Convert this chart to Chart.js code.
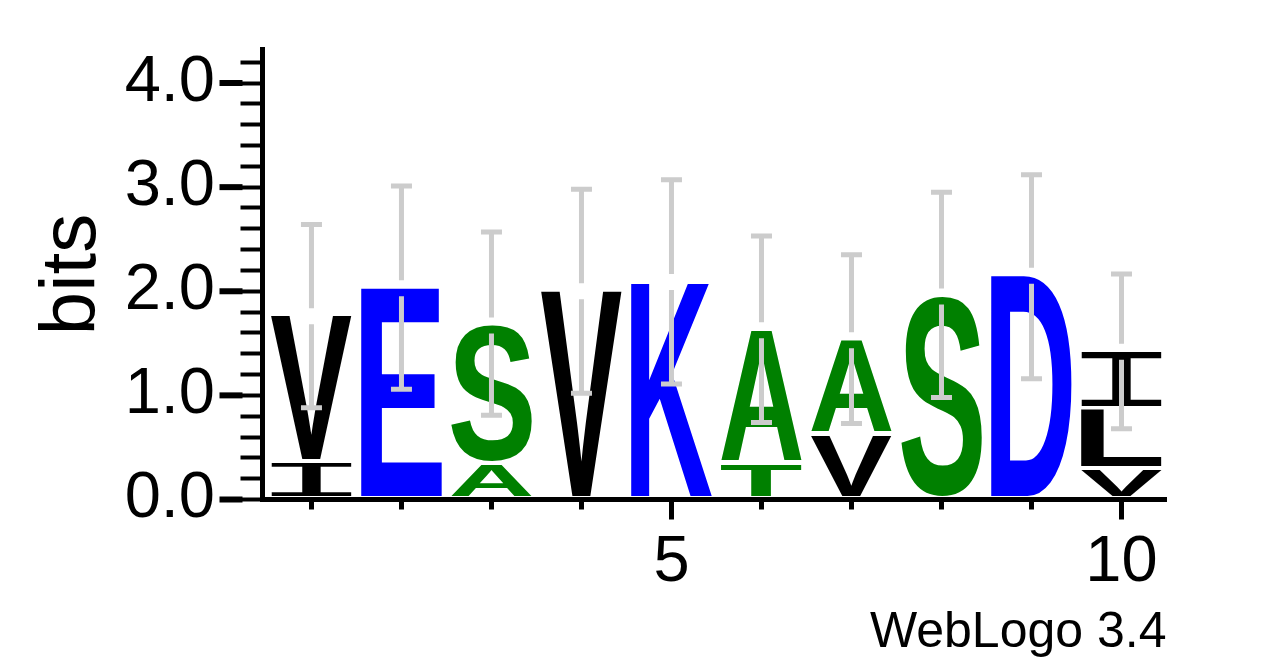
<!DOCTYPE html>
<html><head><meta charset="utf-8">
<script src="https://cdn.jsdelivr.net/npm/chart.js@4.4.1/dist/chart.umd.min.js"></script>
<style>html,body{margin:0;padding:0;background:#fff;}#wrap{width:1267px;height:667px;}</style>
</head><body><div id="wrap"><canvas id="c" width="1267" height="667"></canvas></div>
<script>
// ---- data ----
const positions = [1, 2, 3, 4, 5, 6, 7, 8, 9, 10];
const level0Letters = ['I', 'E', 'A', 'V', 'K', 'T', 'V', 'S', 'D', 'V'];
const level0Bits    = [0.35, 2.03, 0.33, 2.00, 2.09, 0.33, 0.61, 1.95, 2.15, 0.28];
const level1Letters = ['V', '', 'S', '', '', 'A', 'A', '', '', 'L'];
const level1Bits    = [1.41, 0, 1.34, 0, 0, 1.295, 0.92, 0, 0, 0.58];
const level2Letters = ['', '', '', '', '', '', '', '', '', 'I'];
const level2Bits    = [0, 0, 0, 0, 0, 0, 0, 0, 0, 0.56];
const errLow  = [0.88, 1.06, 0.81, 1.02, 1.11, 0.74, 0.73, 0.98, 1.16, 0.68];
const errHigh = [2.64, 3.01, 2.57, 2.98, 3.07, 2.53, 2.35, 2.95, 3.12, 2.165];
const xLabeledTicks = [5, 10];
const yMajorTicks = [0, 1, 2, 3, 4];
const yAxisTitle = 'bits';
const footerText = 'WebLogo 3.4';
const letterColors = {V:'#000000', I:'#000000', L:'#000000', E:'#0000ff', K:'#0000ff', D:'#0000ff', S:'#008000', A:'#008000', T:'#008000'};

const FONT = '"Liberation Sans", Arial, Helvetica, sans-serif';
Chart.defaults.font.family = FONT;
Chart.defaults.color = '#000';

const levels = [
  {letters: level0Letters, bits: level0Bits},
  {letters: level1Letters, bits: level1Bits},
  {letters: level2Letters, bits: level2Bits}
];

const datasets = levels.map((lv, k) => ({
  label: 'level ' + k,
  data: positions.map((p, i) => ({x: p, y: lv.bits[i]})),
  letters: lv.letters,
  backgroundColor: 'rgba(0,0,0,0)',
  borderWidth: 0,
  barPercentage: 0.9,
  categoryPercentage: 1.0
}));

function drawGlyph(ctx, ch, x0, y0, w, h, color) {
  if (h <= 0 || w <= 0) return;
  const font = ch === 'I' ? '200px "Liberation Mono", "DejaVu Sans Mono", monospace'
                          : 'bold 200px ' + FONT;
  ctx.save();
  ctx.font = font;
  ctx.textAlign = 'left';
  ctx.textBaseline = 'alphabetic';
  const m = ctx.measureText(ch);
  const L = m.actualBoundingBoxLeft, R = m.actualBoundingBoxRight;
  const A = m.actualBoundingBoxAscent, D = m.actualBoundingBoxDescent;
  const iw = L + R, ih = A + D;
  ctx.translate(x0, y0);
  ctx.scale(w / iw, h / ih);
  ctx.fillStyle = color;
  ctx.fillText(ch, L, A);
  ctx.restore();
}

const logoPlugin = {
  id: 'logo',
  afterDatasetsDraw(chart) {
    const ctx = chart.ctx;
    const xs = chart.scales.x, ys = chart.scales.y;
    ctx.save();
    chart.data.datasets.forEach((ds, k) => {
      const meta = chart.getDatasetMeta(k);
      meta.data.forEach((el, i) => {
        const ch = ds.letters[i];
        if (!ch || !ds.data[i].y) return;
        const p = el.getProps(['x', 'y', 'base', 'width'], true);
        const bottom = p.base - (k === 0 ? 3 : 4);
        drawGlyph(ctx, ch, p.x - p.width / 2, p.y, p.width, bottom - p.y, letterColors[ch] || '#000');
      });
    });
    // error bars
    ctx.strokeStyle = '#cccccc';
    ctx.lineWidth = 5;
    ctx.lineCap = 'butt';
    positions.forEach((pos, i) => {
      const total = level0Bits[i] + level1Bits[i] + level2Bits[i];
      const px = xs.getPixelForValue(pos);
      const pt = ys.getPixelForValue(total);
      const ph = ys.getPixelForValue(errHigh[i]);
      const pl = ys.getPixelForValue(errLow[i]);
      ctx.beginPath();
      ctx.moveTo(px, ph); ctx.lineTo(px, pt - 8);
      ctx.moveTo(px, pt + 8); ctx.lineTo(px, pl);
      ctx.moveTo(px - 10.5, ph); ctx.lineTo(px + 10.5, ph);
      ctx.moveTo(px - 10.5, pl); ctx.lineTo(px + 10.5, pl);
      ctx.stroke();
    });
    ctx.restore();
  },
  afterDraw(chart) {
    const ctx = chart.ctx;
    const xs = chart.scales.x, ys = chart.scales.y;
    const ca = chart.chartArea;
    ctx.save();
    ctx.strokeStyle = '#000';
    ctx.lineWidth = 6;
    yMajorTicks.forEach(v => {
      const py = ys.getPixelForValue(v);
      ctx.beginPath(); ctx.moveTo(ca.left - 43, py); ctx.lineTo(ca.left - 20, py); ctx.stroke();
    });
    ctx.lineWidth = 5;
    xLabeledTicks.forEach(v => {
      const px = xs.getPixelForValue(v);
      ctx.beginPath(); ctx.moveTo(px, ca.bottom + 8); ctx.lineTo(px, ca.bottom + 20); ctx.stroke();
    });
    ctx.restore();
  }
};

new Chart(document.getElementById('c'), {
  type: 'bar',
  data: {datasets},
  options: {
    responsive: false,
    animation: false,
    devicePixelRatio: 1,
    layout: {padding: {left: 0, top: 49.5, right: 100.5, bottom: 0}},
    plugins: {legend: {display: false}, tooltip: {enabled: false}},
    scales: {
      x: {
        type: 'linear',
        stacked: true,
        offset: false,
        min: 0.456,
        max: 10.5,
        ticks: {
          stepSize: 1, includeBounds: false, autoSkip: false, maxRotation: 0,
          padding: 15,
          font: {size: 65},
          color: '#000',
          callback: v => xLabeledTicks.includes(Math.round(v)) && Math.abs(v - Math.round(v)) < 1e-6 ? String(Math.round(v)) : ''
        },
        grid: {offset: false, drawOnChartArea: false, drawTicks: true, tickLength: 10, tickWidth: 5, tickColor: '#000'},
        border: {display: true, color: '#000', width: 5},
        title: {display: true, text: footerText, align: 'end', font: {size: 50}, color: '#000', padding: {top: 0, bottom: 4}},
        afterFit(s) { s.height = 167.5; s.paddingLeft = 0; s.paddingRight = 0; }
      },
      y: {
        stacked: true,
        min: 0,
        max: Math.log2(20),
        ticks: {
          stepSize: 0.2, includeBounds: false, autoSkip: false,
          padding: 25.5,
          font: {size: 65},
          color: '#000',
          callback: v => {
            const r = Math.round(v);
            return (Math.abs(v - r) < 1e-6 && yMajorTicks.includes(r)) ? r.toFixed(1) : '';
          }
        },
        grid: {drawOnChartArea: false, drawTicks: true, tickLength: 22, tickWidth: 4, tickColor: '#000'},
        border: {display: true, color: '#000', width: 5},
        title: {display: true, text: yAxisTitle, font: {size: 78}, color: '#000', padding: {top: 27, bottom: 0}},
        afterFit(s) { s.width = 262.5; s.paddingTop = 0; s.paddingBottom = 0; }
      }
    }
  },
  plugins: [logoPlugin]
});
</script>
</body></html>
